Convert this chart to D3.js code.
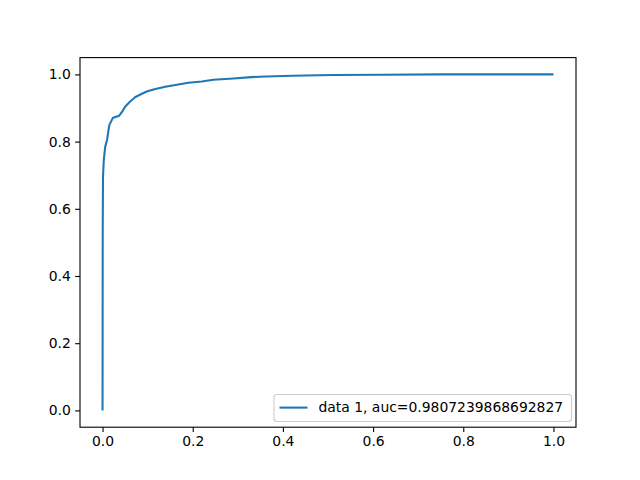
<!DOCTYPE html>
<html><head><meta charset="utf-8">
<script src="https://cdn.jsdelivr.net/npm/d3@7"></script>
<style>body{margin:0;background:#fff}svg{display:block}text{font-family:"DejaVu Sans",sans-serif}</style>
</head><body><svg id="c" width="640" height="480"></svg>
<script>
const fpr = [0, 0.0003, 0.0004, 0.001, 0.0027, 0.006, 0.010, 0.015, 0.0226, 0.030, 0.037, 0.044, 0.050, 0.060, 0.072, 0.085, 0.098, 0.115, 0.139, 0.165, 0.19, 0.22, 0.246, 0.29, 0.33, 0.364, 0.42, 0.51, 0.62, 0.75, 0.9, 1.0];
const tpr = [0, 0.44, 0.537, 0.695, 0.745, 0.785, 0.805, 0.849, 0.870, 0.874, 0.877, 0.890, 0.904, 0.918, 0.932, 0.941, 0.949, 0.956, 0.963, 0.969, 0.975, 0.979, 0.984, 0.988, 0.992, 0.994, 0.996, 0.998, 0.999, 1.0, 1.0, 1.0];
const xTicks = [0.0, 0.2, 0.4, 0.6, 0.8, 1.0];
const yTicks = [0.0, 0.2, 0.4, 0.6, 0.8, 1.0];
const legendLabel = "data 1, auc=0.9807239868692827";

const svg = d3.select("#c");
const L = 80, R = 576, T = 57.6, B = 427.2;
const x = d3.scaleLinear().domain([-0.05, 1.05]).range([L, R]);
const y = d3.scaleLinear().domain([-0.05, 1.05]).range([B, T]);
const fs = 13.9;

const pts = fpr.map((f, i) => [f, tpr[i]]);
svg.append("path").datum(pts)
  .attr("d", d3.line().x(d => x(d[0])).y(d => y(d[1])))
  .attr("fill", "none").attr("stroke", "#1f77b4").attr("stroke-width", 2.08)
  .attr("stroke-linejoin", "round").attr("stroke-linecap", "butt");

const xa = svg.append("g").attr("transform", `translate(0,${B})`)
  .call(d3.axisBottom(x).tickValues(xTicks).tickFormat(d3.format(".1f")).tickSize(4.86).tickPadding(4.4));
const ya = svg.append("g").attr("transform", `translate(${L},0)`)
  .call(d3.axisLeft(y).tickValues(yTicks).tickFormat(d3.format(".1f")).tickSize(4.86).tickPadding(4.4));
[xa, ya].forEach(a => {
  a.select(".domain").remove();
  a.selectAll("line").attr("stroke", "#000").attr("stroke-width", 1.1);
  a.selectAll("text").attr("font-size", fs).attr("fill", "#000").attr("font-family", "DejaVu Sans");
});
svg.append("rect").attr("x", L).attr("y", T).attr("width", R - L).attr("height", B - T)
  .attr("fill", "none").attr("stroke", "#000").attr("stroke-width", 1.1);

// legend
const lg = svg.append("g");
const lx = 274, ly = 394.5, lw = 297.5, lh = 27;
lg.append("rect").attr("x", lx).attr("y", ly).attr("width", lw).attr("height", lh)
  .attr("rx", 3).attr("fill", "#fff").attr("fill-opacity", 0.8).attr("stroke", "#ccc").attr("stroke-width", 1.1);
lg.append("line").attr("x1", 279.5).attr("x2", 307.5).attr("y1", 407.6).attr("y2", 407.6)
  .attr("stroke", "#1f77b4").attr("stroke-width", 2.08);
lg.append("text").attr("x", 318.5).attr("y", 407.6).attr("dy", "0.35em")
  .attr("font-size", fs).attr("fill", "#000").text(legendLabel);
</script></body></html>
